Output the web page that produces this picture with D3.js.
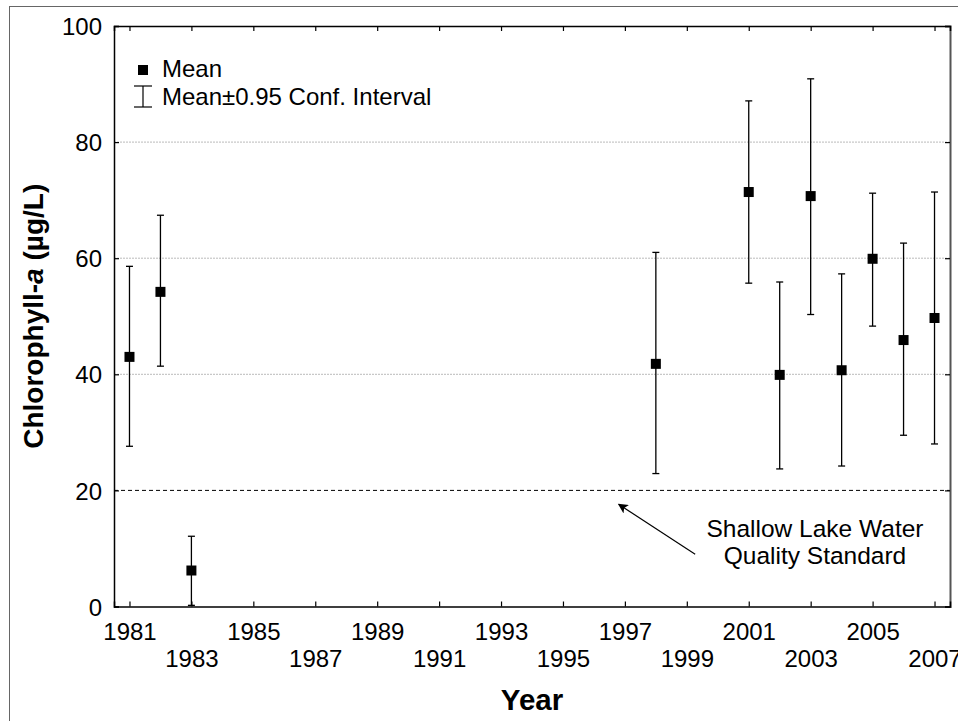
<!DOCTYPE html>
<html>
<head>
<meta charset="utf-8">
<script src="https://cdn.jsdelivr.net/npm/d3@7"></script>
<style>
  body { margin: 0; background: #fff; }
  text { font-family: "Liberation Sans", Arial, sans-serif; fill: #000; }
</style>
</head>
<body>
<div id="chart"></div>
<script>
// chlorophyll-a means and 95% CI bounds by year
const years = [1981, 1982, 1983, 1998, 2001, 2002, 2003, 2004, 2005, 2006, 2007];
const means = [43.0, 54.2, 6.2, 41.8, 71.4, 39.9, 70.7, 40.7, 59.9, 45.9, 49.7];
const upper = [58.6, 67.4, 12.1, 61.0, 87.1, 55.9, 90.9, 57.3, 71.2, 62.6, 71.4];
const lower = [27.6, 41.4, 0.2, 22.9, 55.7, 23.7, 50.3, 24.2, 48.3, 29.5, 28.0];

const yTicks = [0, 20, 40, 60, 80, 100];
const gridValues = [40, 60, 80];
const xTicks = [1981, 1983, 1985, 1987, 1989, 1991, 1993, 1995, 1997, 1999, 2001, 2003, 2005, 2007];
const standard = 20;

const data = years.map((y, i) => ({ year: y, mean: means[i], hi: upper[i], lo: lower[i] }));

const width = 958, height = 721;
const margin = { top: 26, right: 8, bottom: 114.5, left: 114 };
const w = width - margin.left - margin.right;
const h = height - margin.top - margin.bottom;

const svg = d3.select("#chart").append("svg")
  .attr("width", width)
  .attr("height", height);

// outer frame
svg.append("rect")
  .attr("x", 9.5).attr("y", 6.5)
  .attr("width", 970).attr("height", 730)
  .attr("fill", "none")
  .attr("stroke", "#666")
  .attr("stroke-width", 1);

const g = svg.append("g")
  .attr("transform", `translate(${margin.left},${margin.top})`);

const x = d3.scaleLinear().domain([1980.5, 2007.5]).range([0, w]);
const y = d3.scaleLinear().domain([0, 100]).range([h, 0]);

// gridlines
g.selectAll(".grid")
  .data(gridValues)
  .join("line")
  .attr("class", "grid")
  .attr("x1", 0).attr("x2", w)
  .attr("y1", d => y(d)).attr("y2", d => y(d))
  .attr("stroke", "#bbb")
  .attr("stroke-width", 1)
  .attr("stroke-dasharray", "2,1");

// standard line
g.append("line")
  .attr("x1", 0).attr("x2", w)
  .attr("y1", y(standard)).attr("y2", y(standard))
  .attr("stroke", "#000")
  .attr("stroke-width", 1)
  .attr("stroke-dasharray", "4,3");

// axes with inward ticks
const fontSize = 24;
const yAxis = g.append("g")
  .call(d3.axisLeft(y).tickValues(yTicks).tickSize(-5).tickPadding(12).tickFormat(d3.format("d")));
const yAxisR = g.append("g")
  .attr("transform", `translate(${w},0)`)
  .call(d3.axisRight(y).tickValues(yTicks).tickSize(-5).tickFormat(""));
const xAxis = g.append("g")
  .attr("transform", `translate(0,${h})`)
  .call(d3.axisBottom(x).tickValues(xTicks).tickSize(-5).tickPadding(14).tickFormat(d3.format("d")));
const xAxisT = g.append("g")
  .call(d3.axisTop(x).tickValues(xTicks).tickSize(-5).tickFormat(""));

[yAxis, yAxisR, xAxis, xAxisT].forEach(a => {
  a.select(".domain").attr("stroke", "#000").attr("stroke-width", 1.5);
  a.selectAll(".tick line").attr("stroke", "#000").attr("stroke-width", 1.2);
  a.selectAll("text").attr("font-size", fontSize).attr("font-family", "Liberation Sans, Arial, sans-serif");
});
yAxisR.select(".domain").attr("stroke", "#555").attr("stroke-width", 2);
yAxis.selectAll("text").attr("dy", "0.36em");
xAxis.selectAll(".tick text")
  .attr("y", (d, i) => i % 2 === 0 ? 0 : 27)
  .attr("dy", 33);

// error bars
const capW = 3.5;
const bars = g.selectAll(".err")
  .data(data)
  .join("g")
  .attr("class", "err");
bars.append("line")
  .attr("x1", d => x(d.year)).attr("x2", d => x(d.year))
  .attr("y1", d => y(d.lo)).attr("y2", d => y(d.hi))
  .attr("stroke", "#000").attr("stroke-width", 1.3);
bars.append("line")
  .attr("x1", d => x(d.year) - capW).attr("x2", d => x(d.year) + capW)
  .attr("y1", d => y(d.hi)).attr("y2", d => y(d.hi))
  .attr("stroke", "#000").attr("stroke-width", 1.3);
bars.append("line")
  .attr("x1", d => x(d.year) - capW).attr("x2", d => x(d.year) + capW)
  .attr("y1", d => y(d.lo)).attr("y2", d => y(d.lo))
  .attr("stroke", "#000").attr("stroke-width", 1.3);

// mean markers
g.selectAll(".mean")
  .data(data)
  .join("rect")
  .attr("class", "mean")
  .attr("x", d => x(d.year) - 5)
  .attr("y", d => y(d.mean) - 5)
  .attr("width", 10).attr("height", 10)
  .attr("fill", "#000");

// legend
const legend = svg.append("g");
legend.append("rect")
  .attr("x", 138).attr("y", 65).attr("width", 10).attr("height", 10).attr("fill", "#000");
legend.append("text").attr("x", 162).attr("y", 77).attr("font-size", fontSize).text("Mean");
legend.append("line").attr("x1", 143).attr("x2", 143).attr("y1", 86).attr("y2", 107)
  .attr("stroke", "#000").attr("stroke-width", 1.2);
legend.append("line").attr("x1", 134).attr("x2", 152).attr("y1", 86).attr("y2", 86)
  .attr("stroke", "#000").attr("stroke-width", 1.2);
legend.append("line").attr("x1", 134).attr("x2", 152).attr("y1", 107).attr("y2", 107)
  .attr("stroke", "#000").attr("stroke-width", 1.2);
legend.append("text").attr("x", 162).attr("y", 105).attr("font-size", fontSize)
  .text("Mean\u00b10.95 Conf. Interval");

// annotation with arrow
svg.append("defs").append("marker")
  .attr("id", "arrow")
  .attr("viewBox", "0 0 10 10")
  .attr("refX", 9).attr("refY", 5)
  .attr("markerWidth", 14).attr("markerHeight", 10)
  .attr("markerUnits", "userSpaceOnUse")
  .attr("orient", "auto")
  .append("path")
  .attr("d", "M0,0 L10,5 L0,10 L2.5,5 Z")
  .attr("fill", "#000");

g.append("line")
  .attr("x1", x(1999.27)).attr("y1", y(9.0))
  .attr("x2", x(1996.8)).attr("y2", y(17.6))
  .attr("stroke", "#000").attr("stroke-width", 1.2)
  .attr("marker-end", "url(#arrow)");

const note = g.append("text")
  .attr("text-anchor", "middle")
  .attr("font-size", 24.5);
note.append("tspan").attr("x", x(2003.14)).attr("y", y(12.0)).text("Shallow Lake Water");
note.append("tspan").attr("x", x(2003.14)).attr("y", y(7.3)).text("Quality Standard");

// axis titles
svg.append("text")
  .attr("x", margin.left + w / 2)
  .attr("y", 710)
  .attr("text-anchor", "middle")
  .attr("font-size", 29.5)
  .attr("font-weight", "bold")
  .text("Year");

const yTitle = svg.append("text")
  .attr("transform", `translate(43,${margin.top + h / 2}) rotate(-90)`)
  .attr("text-anchor", "middle")
  .attr("font-size", 28)
  .attr("font-weight", "bold");
yTitle.append("tspan").text("Chlorophyll-");
yTitle.append("tspan").attr("font-style", "italic").text("a");
yTitle.append("tspan").text(" (\u00b5g/L)");
</script>
</body>
</html>
